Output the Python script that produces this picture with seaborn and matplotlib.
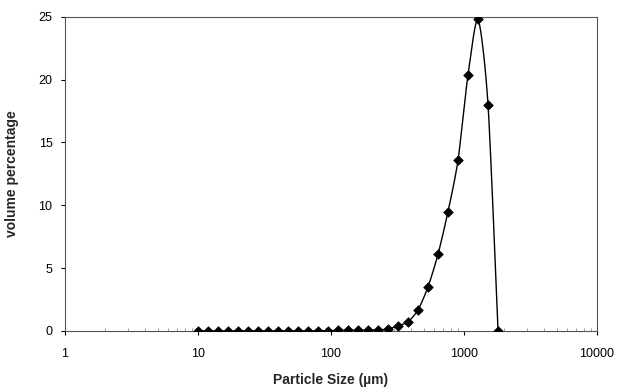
import matplotlib
matplotlib.use("Agg")
import matplotlib.pyplot as plt
import seaborn as sns
import pandas as pd
import numpy as np

particle_size = [10.0, 11.9, 14.1, 16.8, 20.0, 23.8, 28.3, 33.6, 40.0, 47.6,
                 56.6, 67.3, 80.0, 95.1, 113.1, 134.5, 160.0, 190.3, 226.3,
                 269.1, 320.0, 380.6, 452.5, 538.2, 640.0, 761.1, 905.1,
                 1076.3, 1280.0, 1522.2, 1810.2]
volume_pct = [0.0, 0.0, 0.0, 0.0, 0.0, 0.0, 0.0, 0.0, 0.0, 0.0,
              0.0, 0.0, 0.0, 0.02, 0.03, 0.04, 0.05, 0.06, 0.08,
              0.14, 0.40, 0.72, 1.67, 3.5, 6.1, 9.5, 13.6,
              20.4, 24.8, 18.0, 0.0]
x_ticks = [1, 10, 100, 1000, 10000]
x_tick_labels = ["1", "10", "100", "1000", "10000"]
y_ticks = [0, 5, 10, 15, 20, 25]

sns.set_style("white")
plt.rcParams['font.family'] = ['Liberation Sans', 'DejaVu Sans']

df = pd.DataFrame({"size": particle_size, "vol": volume_pct})

# Smoothed connecting line (Excel-style Bezier smoothing in log-x space)
lx = np.log10(np.array(particle_size))
vy = np.array(volume_pct)
px = np.concatenate([[lx[0]], lx, [lx[-1]]])
py = np.concatenate([[vy[0]], vy, [vy[-1]]])
k = 1 / 8
sx, sy = [], []
t = np.linspace(0, 1, 20)[:-1]
for i in range(1, len(px) - 2):
    p0x, p1x, p2x, p3x = px[i - 1], px[i], px[i + 1], px[i + 2]
    p0y, p1y, p2y, p3y = py[i - 1], py[i], py[i + 1], py[i + 2]
    c1x, c1y = p1x + (p2x - p0x) * k, p1y + (p2y - p0y) * k
    c2x, c2y = p2x - (p3x - p1x) * k, p2y - (p3y - p1y) * k
    bx = (1 - t) ** 3 * p1x + 3 * (1 - t) ** 2 * t * c1x + 3 * (1 - t) * t ** 2 * c2x + t ** 3 * p2x
    by = (1 - t) ** 3 * p1y + 3 * (1 - t) ** 2 * t * c1y + 3 * (1 - t) * t ** 2 * c2y + t ** 3 * p2y
    sx.extend(bx)
    sy.extend(by)
sx.append(lx[-1])
sy.append(vy[-1])
smooth = pd.DataFrame({"size": 10 ** np.array(sx), "vol": np.array(sy)})

fig = plt.figure(figsize=(6.19, 3.92), dpi=100)
ax = fig.add_axes([0.105, 0.156, 0.859, 0.801])

sns.lineplot(data=smooth, x="size", y="vol", ax=ax, color="black",
             linewidth=1.0, sort=False, estimator=None)
sns.scatterplot(data=df, x="size", y="vol", ax=ax, color="black",
                marker="D", s=24, edgecolor="black", linewidth=0.5, zorder=3)

ax.set_xscale("log")
ax.set_xlim(1, 10000)
ax.set_ylim(0, 25)
ax.set_xticks(x_ticks)
ax.set_xticklabels(x_tick_labels)
ax.set_yticks(y_ticks)
ax.tick_params(axis="both", which="major", labelsize=9, direction="out",
               length=3, width=0.8, colors="black", bottom=True, left=True, pad=6)
ax.tick_params(axis="x", which="major", pad=9)
ax.tick_params(axis="x", which="minor", direction="in", length=2, width=0.5,
               colors="#777777", bottom=True)
ax.xaxis.set_minor_formatter(matplotlib.ticker.NullFormatter())
for s in ax.spines.values():
    s.set_color("#555555")
    s.set_linewidth(0.8)

ax.set_xlabel("Particle Size (\u00b5m)", fontsize=10, fontweight="bold", labelpad=10)
ax.set_ylabel("volume percentage", fontsize=10, fontweight="bold", labelpad=14)

fig.savefig("out.png", dpi=100)
